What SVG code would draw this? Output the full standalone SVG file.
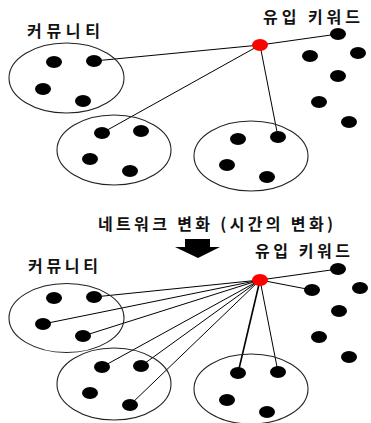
<svg xmlns="http://www.w3.org/2000/svg" width="371" height="423" viewBox="0 0 371 423">
<style>
.t{font-family:"Noto Sans CJK KR","Noto Sans",sans-serif;font-weight:bold;font-size:16px;fill:#111}
.c{fill:none;stroke:#222;stroke-width:1.1}
.d{fill:#000}
.r{fill:#f00}
.l{stroke:#000;stroke-width:1;fill:none}
.lb{stroke:#000;stroke-width:1.6;fill:none}
</style>
<rect width="371" height="423" fill="#fff"/>
<!-- Top panel -->
<g id="connectors-top">
<line class="l" x1="260" y1="45" x2="338" y2="34"/>
<line class="l" x1="260" y1="45" x2="94" y2="61"/>
<line class="l" x1="260" y1="45" x2="102" y2="133"/>
<line class="l" x1="260" y1="45" x2="278" y2="137"/>
</g>
<g id="community-label-top"><text class="t" x="27" y="37" textLength="73" lengthAdjust="spacing">커뮤니티</text></g>
<g id="keyword-label-top"><text class="t" x="263" y="23" textLength="97" lengthAdjust="spacing">유입 키워드</text></g>
<g id="community1-top">
<ellipse class="c" cx="66.5" cy="78" rx="57.5" ry="35"/>
<ellipse class="d" cx="54" cy="62" rx="8" ry="6"/>
<ellipse class="d" cx="94" cy="61" rx="8" ry="6"/>
<ellipse class="d" cx="43" cy="89" rx="8" ry="6"/>
<ellipse class="d" cx="83" cy="101" rx="8" ry="6"/>
</g>
<g id="community2-top">
<ellipse class="c" cx="114" cy="150" rx="57" ry="35"/>
<ellipse class="d" cx="102" cy="133" rx="8" ry="6"/>
<ellipse class="d" cx="141" cy="131" rx="8" ry="6"/>
<ellipse class="d" cx="90" cy="159" rx="8" ry="6"/>
<ellipse class="d" cx="130" cy="171" rx="8" ry="6"/>
</g>
<g id="community3-top">
<ellipse class="c" cx="251" cy="156" rx="57" ry="35"/>
<ellipse class="d" cx="238" cy="139" rx="8" ry="6"/>
<ellipse class="d" cx="278" cy="137" rx="8" ry="6"/>
<ellipse class="d" cx="227" cy="165" rx="8" ry="6"/>
<ellipse class="d" cx="267" cy="177" rx="8" ry="6"/>
</g>
<g id="scatter-top">
<ellipse class="d" cx="338" cy="34" rx="8" ry="6"/>
<ellipse class="d" cx="310" cy="56" rx="8" ry="6"/>
<ellipse class="d" cx="358" cy="53" rx="8" ry="6"/>
<ellipse class="d" cx="338" cy="76" rx="8" ry="6"/>
<ellipse class="d" cx="319" cy="102" rx="8" ry="6"/>
<ellipse class="d" cx="349" cy="122" rx="8" ry="6"/>
</g>
<g id="keyword-top"><ellipse class="r" cx="260" cy="45" rx="8" ry="6"/></g>

<!-- Transition -->
<g id="change-label"><text class="t" x="98" y="230" textLength="235" lengthAdjust="spacing">네트워크 변화 (시간의 변화)</text></g>
<g id="arrow"><path d="M185 239 H210 V247 H220 L198 258 L175 247 H185 Z" fill="#000"/></g>

<!-- Bottom panel -->
<g id="connectors-bottom">
<line class="l" x1="260" y1="280" x2="338" y2="269"/>
<line class="l" x1="260" y1="280" x2="312" y2="290"/>
<line class="l" x1="260" y1="280" x2="94" y2="297"/>
<line class="l" x1="260" y1="280" x2="43" y2="324"/>
<line class="l" x1="260" y1="280" x2="83" y2="336"/>
<line class="l" x1="260" y1="280" x2="102" y2="367"/>
<line class="l" x1="260" y1="280" x2="141" y2="366"/>
<line class="l" x1="260" y1="280" x2="130" y2="405"/>
<line class="lb" x1="260" y1="280" x2="238" y2="373"/>
<line class="l" x1="260" y1="280" x2="278" y2="372"/>
</g>
<g id="keyword-label-bottom"><text class="t" x="255" y="257" textLength="95" lengthAdjust="spacing">유입 키워드</text></g>
<g id="community-label-bottom"><text class="t" x="28" y="272" textLength="70" lengthAdjust="spacing">커뮤니티</text></g>
<g id="community1-bottom">
<ellipse class="c" cx="66.5" cy="318" rx="57.5" ry="34.5"/>
<ellipse class="d" cx="54" cy="298" rx="8" ry="6"/>
<ellipse class="d" cx="94" cy="297" rx="8" ry="6"/>
<ellipse class="d" cx="43" cy="324" rx="8" ry="6"/>
<ellipse class="d" cx="83" cy="336" rx="8" ry="6"/>
</g>
<g id="community2-bottom">
<ellipse class="c" cx="114" cy="384" rx="57" ry="36"/>
<ellipse class="d" cx="102" cy="367" rx="8" ry="6"/>
<ellipse class="d" cx="141" cy="366" rx="8" ry="6"/>
<ellipse class="d" cx="90" cy="393" rx="8" ry="6"/>
<ellipse class="d" cx="130" cy="405" rx="8" ry="6"/>
</g>
<g id="community3-bottom">
<ellipse class="c" cx="251" cy="389" rx="57" ry="35"/>
<ellipse class="d" cx="238" cy="373" rx="8" ry="6"/>
<ellipse class="d" cx="278" cy="372" rx="8" ry="6"/>
<ellipse class="d" cx="227" cy="400" rx="8" ry="6"/>
<ellipse class="d" cx="267" cy="412" rx="8" ry="6"/>
</g>
<g id="scatter-bottom">
<ellipse class="d" cx="338" cy="269" rx="8" ry="6"/>
<ellipse class="d" cx="312" cy="290" rx="8" ry="6"/>
<ellipse class="d" cx="360" cy="288" rx="8" ry="6"/>
<ellipse class="d" cx="339" cy="311" rx="8" ry="6"/>
<ellipse class="d" cx="319" cy="337" rx="8" ry="6"/>
<ellipse class="d" cx="349" cy="357" rx="8" ry="6"/>
</g>
<g id="keyword-bottom"><ellipse class="r" cx="260" cy="280" rx="8" ry="6"/></g>
</svg>
